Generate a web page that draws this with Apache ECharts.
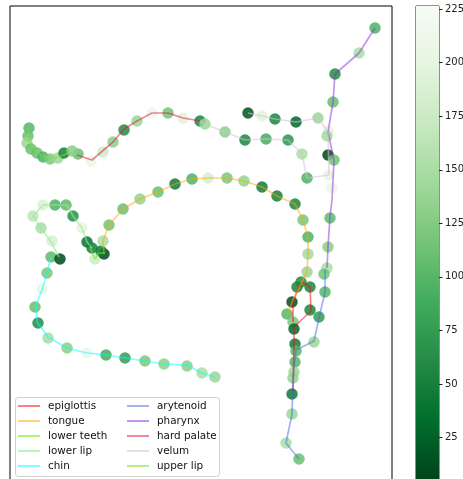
<!DOCTYPE html>
<html>
<head>
<meta charset="utf-8">
<script src="https://cdn.jsdelivr.net/npm/echarts@6/dist/echarts.min.js"></script>
<style>
html,body{margin:0;padding:0;background:#fff;}
#c{width:463px;height:479px;}
</style>
</head>
<body>
<div id="c"></div>
<script>
// ---- data (x, y in plot units; y grows downward) ----
const scatterPoints = [
  [375,28,95],[359,53,150],[335,74,60],[333,102,110],[328,131,200],[327,136,145],[328,155,5],[334,160,115],
  [329,175,200],[332,188,210],[330,218,105],[328,247,130],[327,268,150],[324,274,115],[325,292,100],[319,317,75],[314,342,140],
  [248,113,15],[262,116,195],[275,119,55],[296,122,30],[318,118,140],[200,121,55],[205,124,140],[225,132,130],
  [245,140,55],[266,139,90],[288,140,70],[302,154,150],[307,178,95],
  [78,154,110],[91,161,205],[103,152,175],[113,142,130],[124,130,60],[137,121,140],[152,113,210],[168,113,115],[183,118,195],
  [29,128,100],[28,136,110],[27,143,140],[31,149,110],[37,153,110],[43,157,95],[50,159,120],[58,158,140],[64,153,50],[72,151,130],
  [43,205,190],[55,205,95],[66,205,105],[73,216,65],[33,216,165],[41,228,150],[82,228,200],[52,241,185],[87,242,38],
  [92,248,50],[95,259,175],[104,254,8],[51,257,105],[60,259,8],[101,251,45],
  [103,241,150],[109,225,115],[123,209,110],[140,199,135],[158,192,110],[175,184,45],[192,179,95],[208,178,185],
  [227,178,120],[244,181,135],[262,187,45],[277,196,50],[295,204,55],[303,220,120],[308,237,95],[308,254,145],[307,272,140],
  [301,282,60],[297,287,55],[310,287,55],[292,302,10],[287,314,100],[310,310,55],[293,322,120],[294,329,30],[295,344,45],
  [296,351,100],[295,362,100],[294,372,140],[293,378,135],[292,394,45],[292,414,140],[286,443,150],[299,459,110],
  [47,273,120],[42,289,205],[35,307,110],[38,323,60],[48,338,150],[67,348,130],[87,353,210],[106,355,90],
  [125,358,75],[145,361,120],[164,364,130],[187,366,130],[202,373,150],[215,377,140]
];
const epiglottis = [[293,322],[293,303],[298,288],[302,282],[310,287],[311,311],[294,327],[294,344],[293,393]];
const tongue = [[104,254],[103,241],[109,225],[123,209],[140,199],[158,192],[175,184],[192,179],[208,178],[227,178],[244,181],[262,187],[277,196],[295,204],[303,220],[308,237],[308,254],[307,272],[293,300],[287,315]];
const lowerTeeth = [[90,247],[95,259],[99,253],[105,253]];
const lowerLip = [[59,257],[51,242],[41,228],[33,216],[43,205],[55,205],[67,205],[73,216],[82,228],[87,242],[92,248]];
const chin = [[51,257],[47,273],[42,290],[36,305],[37,322],[48,337],[67,348],[87,353],[106,355],[125,358],[145,361],[164,364],[187,365],[202,373],[215,377]];
const arytenoid = [[325,270],[325,292],[319,318],[314,341],[296,350],[293,378],[292,414],[286,443],[299,459]];
const pharynx = [[375,28],[359,53],[335,74],[333,102],[328,132],[334,160],[332,200],[330,217],[328,247],[327,268]];
const hardPalate = [[77,155],[92,160],[113,142],[124,129],[137,121],[152,113],[168,113],[183,118],[200,121]];
const velum = [[200,121],[205,124],[225,132],[245,140],[266,139],[288,140],[302,154],[307,178],[329,175],[328,132],[318,118],[296,122],[275,119],[262,116],[248,113]];
const upperLip = [[29,129],[28,137],[32,147],[42,156],[50,158],[58,157],[72,152]];

const legendCol1 = ['epiglottis','tongue','lower teeth','lower lip','chin'];
const legendCol2 = ['arytenoid','pharynx','hard palate','velum','upper lip'];
const colorMin = 5, colorMax = 226.5;
const colorbarTicks = [25,50,75,100,125,150,175,200,225];
const greens = ['#00441b','#006d2c','#238b45','#41ab5d','#74c476','#a1d99b','#c7e9c0','#e5f5e0','#f7fcf5'];

const lineDefs = [
  ['epiglottis', epiglottis, 'rgba(255,0,0,0.5)'],
  ['tongue', tongue, 'rgba(255,165,0,0.5)'],
  ['lower teeth', lowerTeeth, 'rgba(110,240,20,0.6)'],
  ['lower lip', lowerLip, 'rgba(144,238,144,0.6)'],
  ['chin', chin, 'rgba(0,255,255,0.5)'],
  ['arytenoid', arytenoid, 'rgba(65,105,225,0.5)'],
  ['pharynx', pharynx, 'rgba(138,43,226,0.5)'],
  ['hard palate', hardPalate, 'rgba(220,20,60,0.5)'],
  ['velum', velum, 'rgba(216,191,216,0.55)'],
  ['upper lip', upperLip, 'rgba(125,225,40,0.55)']
];

const chart = echarts.init(document.getElementById('c'), null, {renderer:'canvas'});

const series = [{
  type:'scatter', xAxisIndex:0, yAxisIndex:0, data: scatterPoints,
  symbolSize: 11.5, itemStyle:{opacity:0.85}, z:2, silent:true
}];
lineDefs.forEach(([name, pts, col]) => {
  series.push({
    type:'line', name, xAxisIndex:0, yAxisIndex:0, data: pts,
    showSymbol:false, symbol:'none', smooth:false,
    lineStyle:{color:col, width:1.7}, itemStyle:{color:col}, z:3, silent:true
  });
});
// colorbar
const gradStops = [];
greens.forEach((c,i)=>{
  const val = colorMin + (colorMax-colorMin)*(i/(greens.length-1));
  gradStops.push({offset: 1 - val/colorMax, color: c});
});
gradStops.sort((a,b)=>a.offset-b.offset);
series.push({
  type:'bar', xAxisIndex:1, yAxisIndex:1, data:[colorMax], barWidth:'100%',
  itemStyle:{color:{type:'linear',x:0,y:0,x2:0,y2:1,colorStops:gradStops}}, silent:true, z:1
});

const legendCommon = {
  orient:'vertical', icon:'rect', itemWidth:22, itemHeight:2, itemGap:3,
  textStyle:{fontFamily:'DejaVu Sans', fontSize:10.4, color:'#111', lineHeight:12, padding:[0,0,0,3]},
  selectedMode:false, padding:0
};

chart.setOption({
  animation:false,
  backgroundColor:'#fff',
  grid:[
    {left:10, top:6, width:382, height:474, show:true, borderColor:'#000', borderWidth:1, backgroundColor:'transparent', outerBoundsMode:'none', containLabel:false},
    {left:416, top:6, width:23, height:485, show:true, borderColor:'#222', borderWidth:1, backgroundColor:'transparent', outerBoundsMode:'none', containLabel:false}
  ],
  xAxis:[
    {type:'value', gridIndex:0, min:10, max:392, show:false},
    {type:'category', gridIndex:1, data:['c'], show:false}
  ],
  yAxis:[
    {type:'value', gridIndex:0, min:6, max:480, inverse:true, show:false},
    {type:'value', gridIndex:1, min:0, max:colorMax, position:'right',
     axisLine:{show:false}, splitLine:{show:false},
     axisTick:{show:true, length:3.5, lineStyle:{color:'#222'}, customValues: colorbarTicks},
     axisLabel:{show:true, margin:6, fontFamily:'DejaVu Sans', fontSize:10, color:'#222', customValues: colorbarTicks}
    }
  ],
  visualMap:{type:'continuous', show:false, min:colorMin, max:colorMax, dimension:2, seriesIndex:0, inRange:{color:greens}},
  legend:[
    Object.assign({left:18, top:400, data:legendCol1}, legendCommon),
    Object.assign({left:127, top:400, data:legendCol2}, legendCommon)
  ],
  graphic:[{
    type:'rect', left:15, top:397, z:-1, zlevel:0,
    shape:{width:204, height:79, r:3},
    style:{fill:'rgba(255,255,255,0.8)', stroke:'#d0d0d0', lineWidth:1}
  }],
  series
});
</script>
</body>
</html>
